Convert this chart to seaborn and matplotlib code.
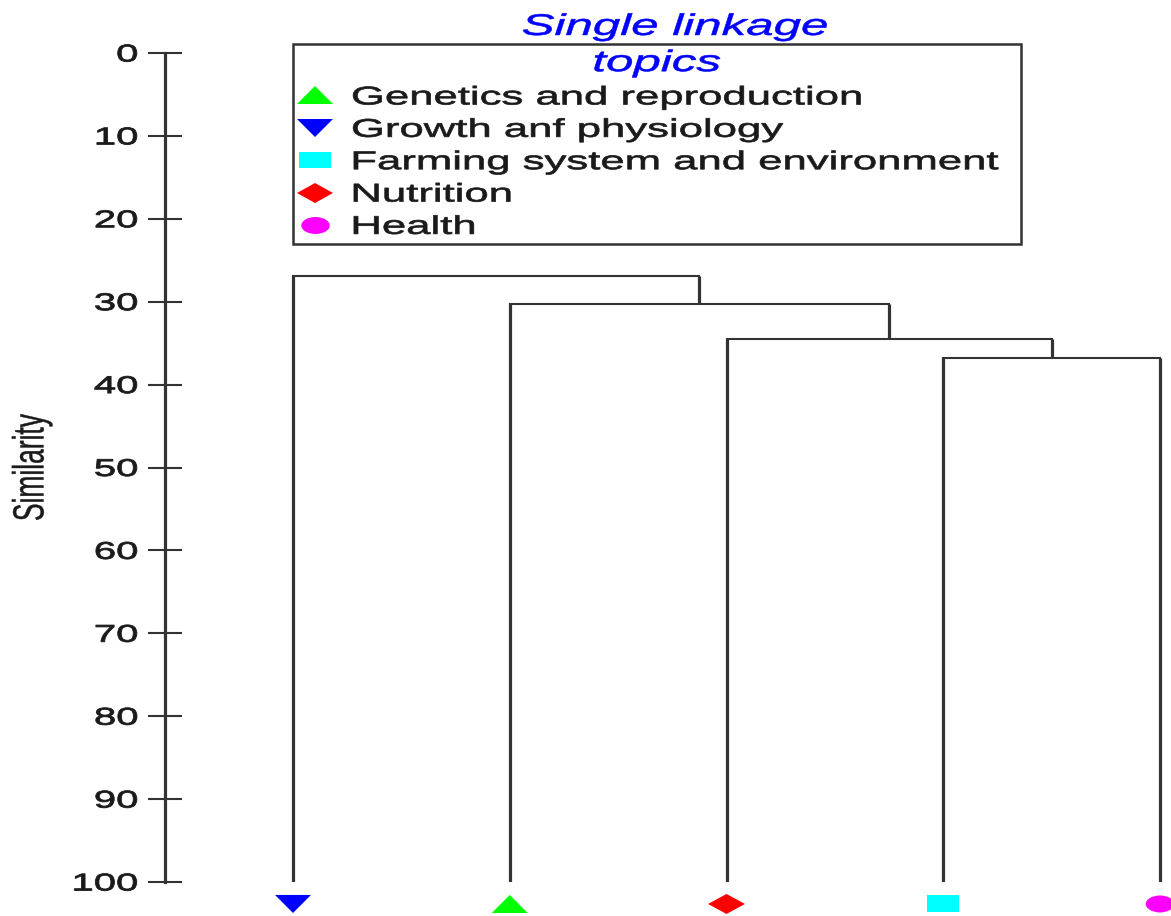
import numpy as np
import pandas as pd
import matplotlib
matplotlib.use('Agg')
import matplotlib.pyplot as plt
import seaborn as sns
from matplotlib.markers import MarkerStyle
from matplotlib.patheffects import AbstractPathEffect
from matplotlib.transforms import Affine2D

# leaves in dendrogram order (left to right)
leaf_labels = ['Growth anf physiology', 'Genetics and reproduction', 'Nutrition',
               'Farming system and environment', 'Health']
# merge steps, scipy-linkage style: clusters 0-4 are the leaves, each merge makes 5, 6, ...
merge_left = [3, 2, 1, 0]
merge_right = [4, 5, 6, 7]
merge_similarity = [36.8, 34.5, 30.3, 26.9]
leaf_similarity = 100

legend_order = ['Genetics and reproduction', 'Growth anf physiology',
                'Farming system and environment', 'Nutrition', 'Health']
topic_colors = {
    'Genetics and reproduction': '#00ff00',
    'Growth anf physiology': '#0000ff',
    'Farming system and environment': '#00ffff',
    'Nutrition': '#ff0000',
    'Health': '#ff00ff',
}
y_ticks = [0, 10, 20, 30, 40, 50, 60, 70, 80, 90, 100]

# the source picture is stretched sideways, text and markers follow that
STRETCH = 1.65
line_color = '#333333'
text_color = '#1a1a1a'


class StretchText(AbstractPathEffect):
    def __init__(self, sx=1.0, sy=1.0, anchor='center', stroke=0.5):
        super().__init__()
        self.sx = sx
        self.sy = sy
        self.anchor = anchor
        self.stroke = stroke

    def draw_path(self, renderer, gc, tpath, affine, rgbFace=None):
        ext = tpath.get_extents()
        if self.anchor == 'left':
            x0 = ext.x0
        elif self.anchor == 'right':
            x0 = ext.x1
        else:
            x0 = (ext.x0 + ext.x1) / 2
        y0 = (ext.y0 + ext.y1) / 2
        pre = Affine2D().translate(-x0, -y0).scale(self.sx, self.sy).translate(x0, y0)
        gc2 = renderer.new_gc()
        gc2.copy_properties(gc)
        gc2.set_linewidth(self.stroke)
        renderer.draw_path(gc2, tpath, pre + affine, rgbFace)
        gc2.restore()


sns.set_style('white')
plt.rcParams['font.family'] = ['Liberation Sans', 'DejaVu Sans']

fig = plt.figure(figsize=(11.71, 9.16), dpi=100)
ax = fig.add_axes([165 / 1171, 34 / 916, 1006 / 1171, 829 / 916])

# dendrogram links (vertical strokes come out wider in the stretched source)
node_x = list(range(len(leaf_labels)))
node_y = [leaf_similarity] * len(leaf_labels)
for a, b, s in zip(merge_left, merge_right, merge_similarity):
    ax.vlines([node_x[a], node_x[b]], [node_y[a], node_y[b]], s, color=line_color, lw=2.3)
    ax.hlines(s, node_x[a], node_x[b], color=line_color, lw=1.5, capstyle='projecting')
    node_x.append((node_x[a] + node_x[b]) / 2)
    node_y.append(s)

# leaf markers below the axis
marker_gap = 2.65
base_size = 10
marker_map = {
    'Genetics and reproduction': MarkerStyle('^', transform=Affine2D().scale(2.59, 1.30)),
    'Growth anf physiology': MarkerStyle('v', transform=Affine2D().scale(2.59, 1.30)),
    'Farming system and environment': MarkerStyle('s', transform=Affine2D().scale(2.30, 1.22)),
    'Nutrition': MarkerStyle('D', transform=Affine2D().scale(1.88, 1.02)),
    'Health': MarkerStyle('o', transform=Affine2D().scale(2.05, 1.22)),
}
df = pd.DataFrame({'pos': np.arange(len(leaf_labels)),
                   'sim': leaf_similarity + marker_gap,
                   'topic': leaf_labels})
sns.scatterplot(data=df, x='pos', y='sim', hue='topic', style='topic',
                hue_order=legend_order, style_order=legend_order,
                palette=topic_colors, markers=marker_map, s=base_size ** 2,
                linewidth=0, clip_on=False, ax=ax)

ax.set_ylim(100, 0)
ax.set_xlim(-128 / 216.75, 4 + 11 / 216.75)
ax.set_xticks([])
ax.set_xlabel('')
ax.set_yticks(y_ticks)
ax.tick_params(axis='y', direction='inout', length=25, width=1.5, color=line_color,
               pad=7, labelsize=17.5, labelcolor=text_color, left=True)
sns.despine(ax=ax, bottom=True)
ax.spines['left'].set_color(line_color)
ax.spines['left'].set_linewidth(2.3)

ax.set_ylabel('Similarity', fontsize=19, color=text_color)
ax.yaxis.label.set(ha='center', va='center', rotation_mode='anchor')
ax.yaxis.set_label_coords(-133 / 1006, 0.5)
ax.yaxis.label.set_path_effects([StretchText(sy=STRETCH, stroke=0.3)])

ax.set_title('Single linkage', fontsize=21.5, fontstyle='italic', color='#0000ff',
             x=(675 - 165) / 1006, pad=13)
ax.title.set_path_effects([StretchText(sx=STRETCH, stroke=0.4)])

for t in ax.get_yticklabels():
    t.set_path_effects([StretchText(sx=STRETCH, anchor='right', stroke=0.6)])

sns.move_legend(ax, 'upper left', bbox_to_anchor=(128 / 1006, 838 / 829, 728 / 1006, 0),
                mode='expand', borderaxespad=0, title='topics', title_fontsize=21.5,
                title_fontstyle='italic', fontsize=18.5, frameon=True, fancybox=False,
                framealpha=1, handlelength=1.3, handletextpad=0.79, labelspacing=0.325,
                borderpad=0.2)
leg = ax.get_legend()
leg.get_title().set_color('#0000ff')
leg.get_title().set_path_effects([StretchText(sx=STRETCH, stroke=0.4)])
leg.get_frame().set_edgecolor(line_color)
leg.get_frame().set_linewidth(1.8)
for t in leg.get_texts():
    t.set_color(text_color)
    t.set_path_effects([StretchText(sx=1.7, anchor='left')])
for h in leg.legend_handles:
    h.set_markersize(base_size)
    h.set_markeredgewidth(0)

fig.savefig('out.png', dpi=100)
